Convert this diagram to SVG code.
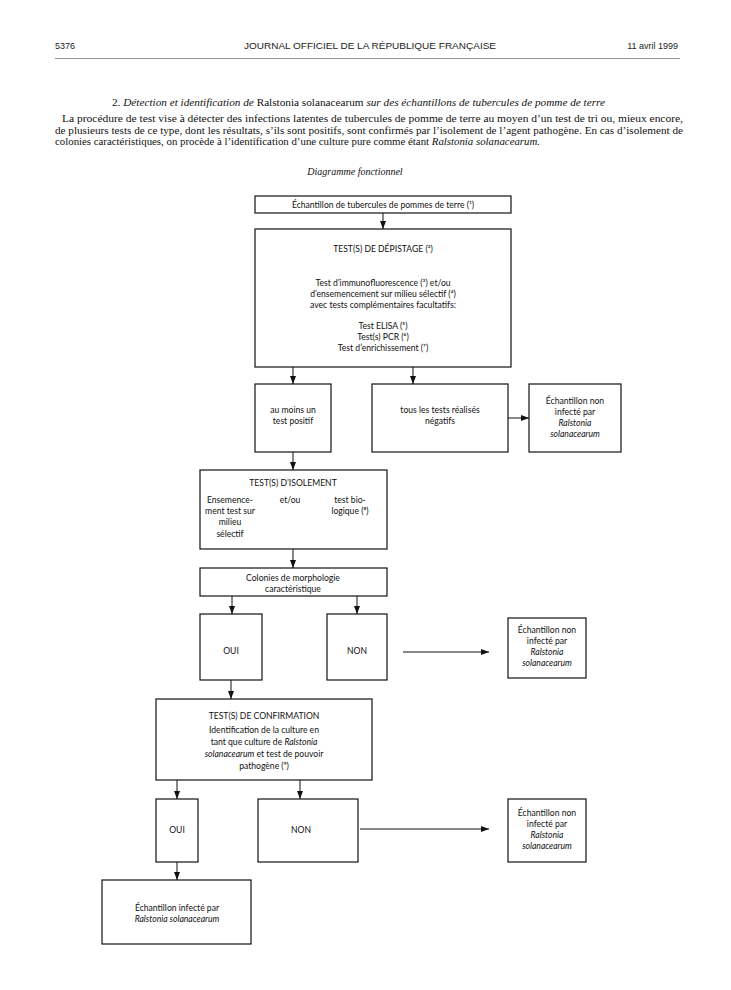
<svg xmlns="http://www.w3.org/2000/svg" width="731" height="990" viewBox="0 0 731 990">
<defs>
<marker id="ah" viewBox="0 0 8 6" markerWidth="8" markerHeight="6" refX="8" refY="3" orient="auto" markerUnits="userSpaceOnUse">
<path d="M0,0 L8,3 L0,6 z" fill="#111"/>
</marker>
<style>
.bx{fill:#fff;stroke:#111;stroke-width:1.2}
.t{font-family:Lato,"Noto Sans","DejaVu Sans",sans-serif;font-size:8.6px;fill:#111;text-anchor:middle}
.i{font-style:italic}
.ln{stroke:#111;stroke-width:1;fill:none;marker-end:url(#ah)}
.hd{font-family:"Liberation Sans",Arial,sans-serif;font-size:9px;fill:#222}
.p{font-family:"Liberation Serif","Times New Roman",serif;font-size:10px;fill:#111}
</style>
</defs>
<rect width="731" height="990" fill="#fff"/>
<g id="header">
<text class="hd" x="55" y="49">5376</text>
<text class="hd" x="370" y="49" text-anchor="middle" textLength="252" lengthAdjust="spacingAndGlyphs">JOURNAL OFFICIEL DE LA RÉPUBLIQUE FRANÇAISE</text>
<text class="hd" x="678" y="49" text-anchor="end">11 avril 1999</text>
<line x1="55" y1="58.5" x2="680" y2="58.5" stroke="#777" stroke-width="0.8"/>
</g>
<g id="intro">
<text class="p" x="112" y="106" textLength="493" lengthAdjust="spacingAndGlyphs">2. <tspan font-style="italic">Détection et identification de</tspan> Ralstonia solanacearum <tspan font-style="italic">sur des échantillons de tubercules de pomme de terre</tspan></text>
<text class="p" x="62" y="122" textLength="621" lengthAdjust="spacingAndGlyphs">La procédure de test vise à détecter des infections latentes de tubercules de pomme de terre au moyen d’un test de tri ou, mieux encore,</text>
<text class="p" x="55" y="134" textLength="628" lengthAdjust="spacingAndGlyphs">de plusieurs tests de ce type, dont les résultats, s’ils sont positifs, sont confirmés par l’isolement de l’agent pathogène. En cas d’isolement de</text>
<text class="p" x="55" y="145" textLength="485" lengthAdjust="spacingAndGlyphs">colonies caractéristiques, on procède à l’identification d’une culture pure comme étant <tspan font-style="italic">Ralstonia solanacearum.</tspan></text>
<text class="p" x="355" y="175" text-anchor="middle" font-style="italic" font-size="9.5">Diagramme fonctionnel</text>
</g>
<g id="connectors">
<line class="ln" x1="383" y1="213" x2="383" y2="229"/>
<line class="ln" x1="383" y1="257" x2="383" y2="275"/>
<line class="ln" x1="293" y1="367" x2="293" y2="384"/>
<line class="ln" x1="413" y1="367" x2="413" y2="384"/>
<line class="ln" x1="508" y1="418" x2="529" y2="418"/>
<line class="ln" x1="293" y1="452" x2="293" y2="470"/>
<line class="ln" x1="293" y1="549" x2="293" y2="568"/>
<line class="ln" x1="232" y1="596" x2="232" y2="614"/>
<line class="ln" x1="357" y1="596" x2="357" y2="614"/>
<line class="ln" x1="403" y1="652" x2="489" y2="652"/>
<line class="ln" x1="231" y1="680" x2="231" y2="699"/>
<line class="ln" x1="177" y1="780" x2="177" y2="799"/>
<line class="ln" x1="300" y1="780" x2="300" y2="799"/>
<line class="ln" x1="360" y1="829" x2="489" y2="829"/>
<line class="ln" x1="177" y1="862" x2="177" y2="880"/>
</g>
<g id="sample">
<rect class="bx" x="255" y="196" width="256" height="17"/>
<text class="t" x="383" y="208">Échantillon de tubercules de pommes de terre (¹)</text>
</g>
<g id="screening">
<rect class="bx" x="255" y="229" width="256" height="138"/>
<text class="t" x="383" y="252">TEST(S) DE DÉPISTAGE (²)</text>
<text class="t" x="383" y="286">Test d’immunofluorescence (³) et/ou</text>
<text class="t" x="383" y="297">d’ensemencement sur milieu sélectif (⁴)</text>
<text class="t" x="383" y="308">avec tests complémentaires facultatifs:</text>
<text class="t" x="383" y="329">Test ELISA (⁵)</text>
<text class="t" x="383" y="340">Test(s) PCR (⁶)</text>
<text class="t" x="383" y="351">Test d’enrichissement (⁷)</text>
</g>
<g id="positive">
<rect class="bx" x="255" y="384" width="76" height="68"/>
<text class="t" x="293" y="413">au moins un</text>
<text class="t" x="293" y="424">test positif</text>
</g>
<g id="negative">
<rect class="bx" x="372" y="384" width="136" height="68"/>
<text class="t" x="440" y="413">tous les tests réalisés</text>
<text class="t" x="440" y="424">négatifs</text>
</g>
<g id="noninfected1">
<rect class="bx" x="529" y="384" width="92" height="68"/>
<text class="t" x="575" y="404">Échantillon non</text>
<text class="t" x="575" y="415">infecté par</text>
<text class="t i" x="575" y="426">Ralstonia</text>
<text class="t i" x="575" y="437">solanacearum</text>
</g>
<g id="isolation">
<rect class="bx" x="200" y="470" width="187" height="79"/>
<text class="t" x="293" y="486">TEST(S) D’ISOLEMENT</text>
<text class="t" x="230" y="503">Ensemence-</text>
<text class="t" x="230" y="514">ment test sur</text>
<text class="t" x="230" y="525">milieu</text>
<text class="t" x="230" y="537">sélectif</text>
<text class="t" x="290" y="503">et/ou</text>
<text class="t" x="350" y="503">test bio-</text>
<text class="t" x="350" y="514">logique (⁸)</text>
</g>
<g id="colonies">
<rect class="bx" x="200" y="568" width="187" height="28"/>
<text class="t" x="293" y="581">Colonies de morphologie</text>
<text class="t" x="293" y="592">caractéristique</text>
</g>
<g id="oui1">
<rect class="bx" x="200" y="614" width="62" height="66"/>
<text class="t" x="231" y="654">OUI</text>
</g>
<g id="non1">
<rect class="bx" x="327" y="614" width="60" height="66"/>
<text class="t" x="357" y="654">NON</text>
</g>
<g id="noninfected2">
<rect class="bx" x="508" y="618" width="78" height="60"/>
<text class="t" x="547" y="633">Échantillon non</text>
<text class="t" x="547" y="644">infecté par</text>
<text class="t i" x="547" y="655">Ralstonia</text>
<text class="t i" x="547" y="666">solanacearum</text>
</g>
<g id="confirmation">
<rect class="bx" x="156" y="699" width="216" height="81"/>
<text class="t" x="264" y="719">TEST(S) DE CONFIRMATION</text>
<text class="t" x="264" y="733">Identification de la culture en</text>
<text class="t" x="264" y="745">tant que culture de <tspan class="i">Ralstonia</tspan></text>
<text class="t" x="264" y="757"><tspan class="i">solanacearum</tspan> et test de pouvoir</text>
<text class="t" x="264" y="769">pathogène (⁹)</text>
</g>
<g id="oui2">
<rect class="bx" x="156" y="799" width="42" height="63"/>
<text class="t" x="177" y="833">OUI</text>
</g>
<g id="non2">
<rect class="bx" x="258" y="799" width="100" height="63"/>
<text class="t" x="301" y="833">NON</text>
</g>
<g id="noninfected3">
<rect class="bx" x="508" y="799" width="78" height="63"/>
<text class="t" x="547" y="816">Échantillon non</text>
<text class="t" x="547" y="827">infecté par</text>
<text class="t i" x="547" y="838">Ralstonia</text>
<text class="t i" x="547" y="849">solanacearum</text>
</g>
<g id="infected">
<rect class="bx" x="102" y="880" width="149" height="64"/>
<text class="t" x="177" y="911">Échantillon infecté par</text>
<text class="t i" x="177" y="922">Ralstonia solanacearum</text>
</g>
</svg>
